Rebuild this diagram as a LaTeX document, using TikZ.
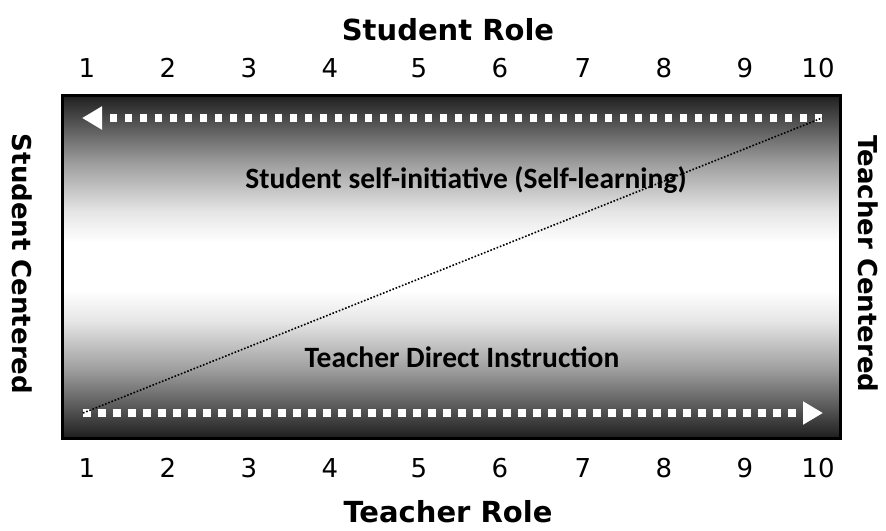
\documentclass[tikz,border=0pt]{standalone}
\usepackage{fontspec}
\setmainfont{DejaVu Sans}
\newfontfamily\calfont{Carlito}
\usetikzlibrary{arrows.meta}
\pgfdeclareverticalshading{bwband}{100bp}{color(0bp)=(black!88); color(25bp)=(black!88); color(29bp)=(black!68); color(35bp)=(black!38); color(42bp)=(black!10); color(46.5bp)=(white); color(53.5bp)=(white); color(58bp)=(black!10); color(65bp)=(black!38); color(71bp)=(black!68); color(75bp)=(black!88); color(100bp)=(black!88)}
\tikzset{
  title/.style={font=\fontsize{29}{34}\selectfont\bfseries, inner sep=0pt},
  side/.style={font=\fontsize{26}{30}\selectfont\bfseries, inner sep=0pt},
  num/.style={font=\fontsize{26}{30}\selectfont, inner sep=0pt},
  inner/.style={font=\calfont\fontsize{29.5}{34}\selectfont\bfseries, inner sep=0pt},
  dasharrow/.style={white, line width=7.5pt, dash pattern=on 7.5pt off 7.5pt, -{Triangle[length=20pt,width=22pt]}},
  diag/.style={black, line width=1.6pt, dash pattern=on 1.6pt off 1.8pt},
}
\begin{document}
\begin{tikzpicture}[x=1pt,y=-1pt]
\useasboundingbox (0,0) rectangle (886,530);
\shade[shading=bwband] (62,95) rectangle (840,438);
\draw[black, line width=3pt] (62,95) rectangle (840,438);
\coordinate (tl) at (822,118);
\coordinate (tr) at (82,118);
\coordinate (bl) at (83,413);
\coordinate (br) at (823,413);
\draw[dasharrow] (tl) -- (tr);
\draw[dasharrow] (bl) -- (br);
\draw[diag] (bl) -- (tl);
\node[title] (st) at (448,30) {Student Role};
\node[title] (tt) at (448,512) {Teacher Role};
\node[side, rotate=-90] (sc) at (22,264) {Student Centered};
\node[side, rotate=-90] (tc) at (868,264) {Teacher Centered};
\node[inner] (i1) at (466,180) {Student self-initiative (Self-learning)};
\node[inner] (i2) at (462,357) {Teacher Direct Instruction};
\foreach \n/\x in {1/87,2/168,3/249,4/330,5/419,6/500,7/583,8/664,9/745,10/818}{
  \node[num] (u\n) at (\x,68) {\n};
  \node[num] (d\n) at (\x,468) {\n};
}
\end{tikzpicture}
\end{document}
